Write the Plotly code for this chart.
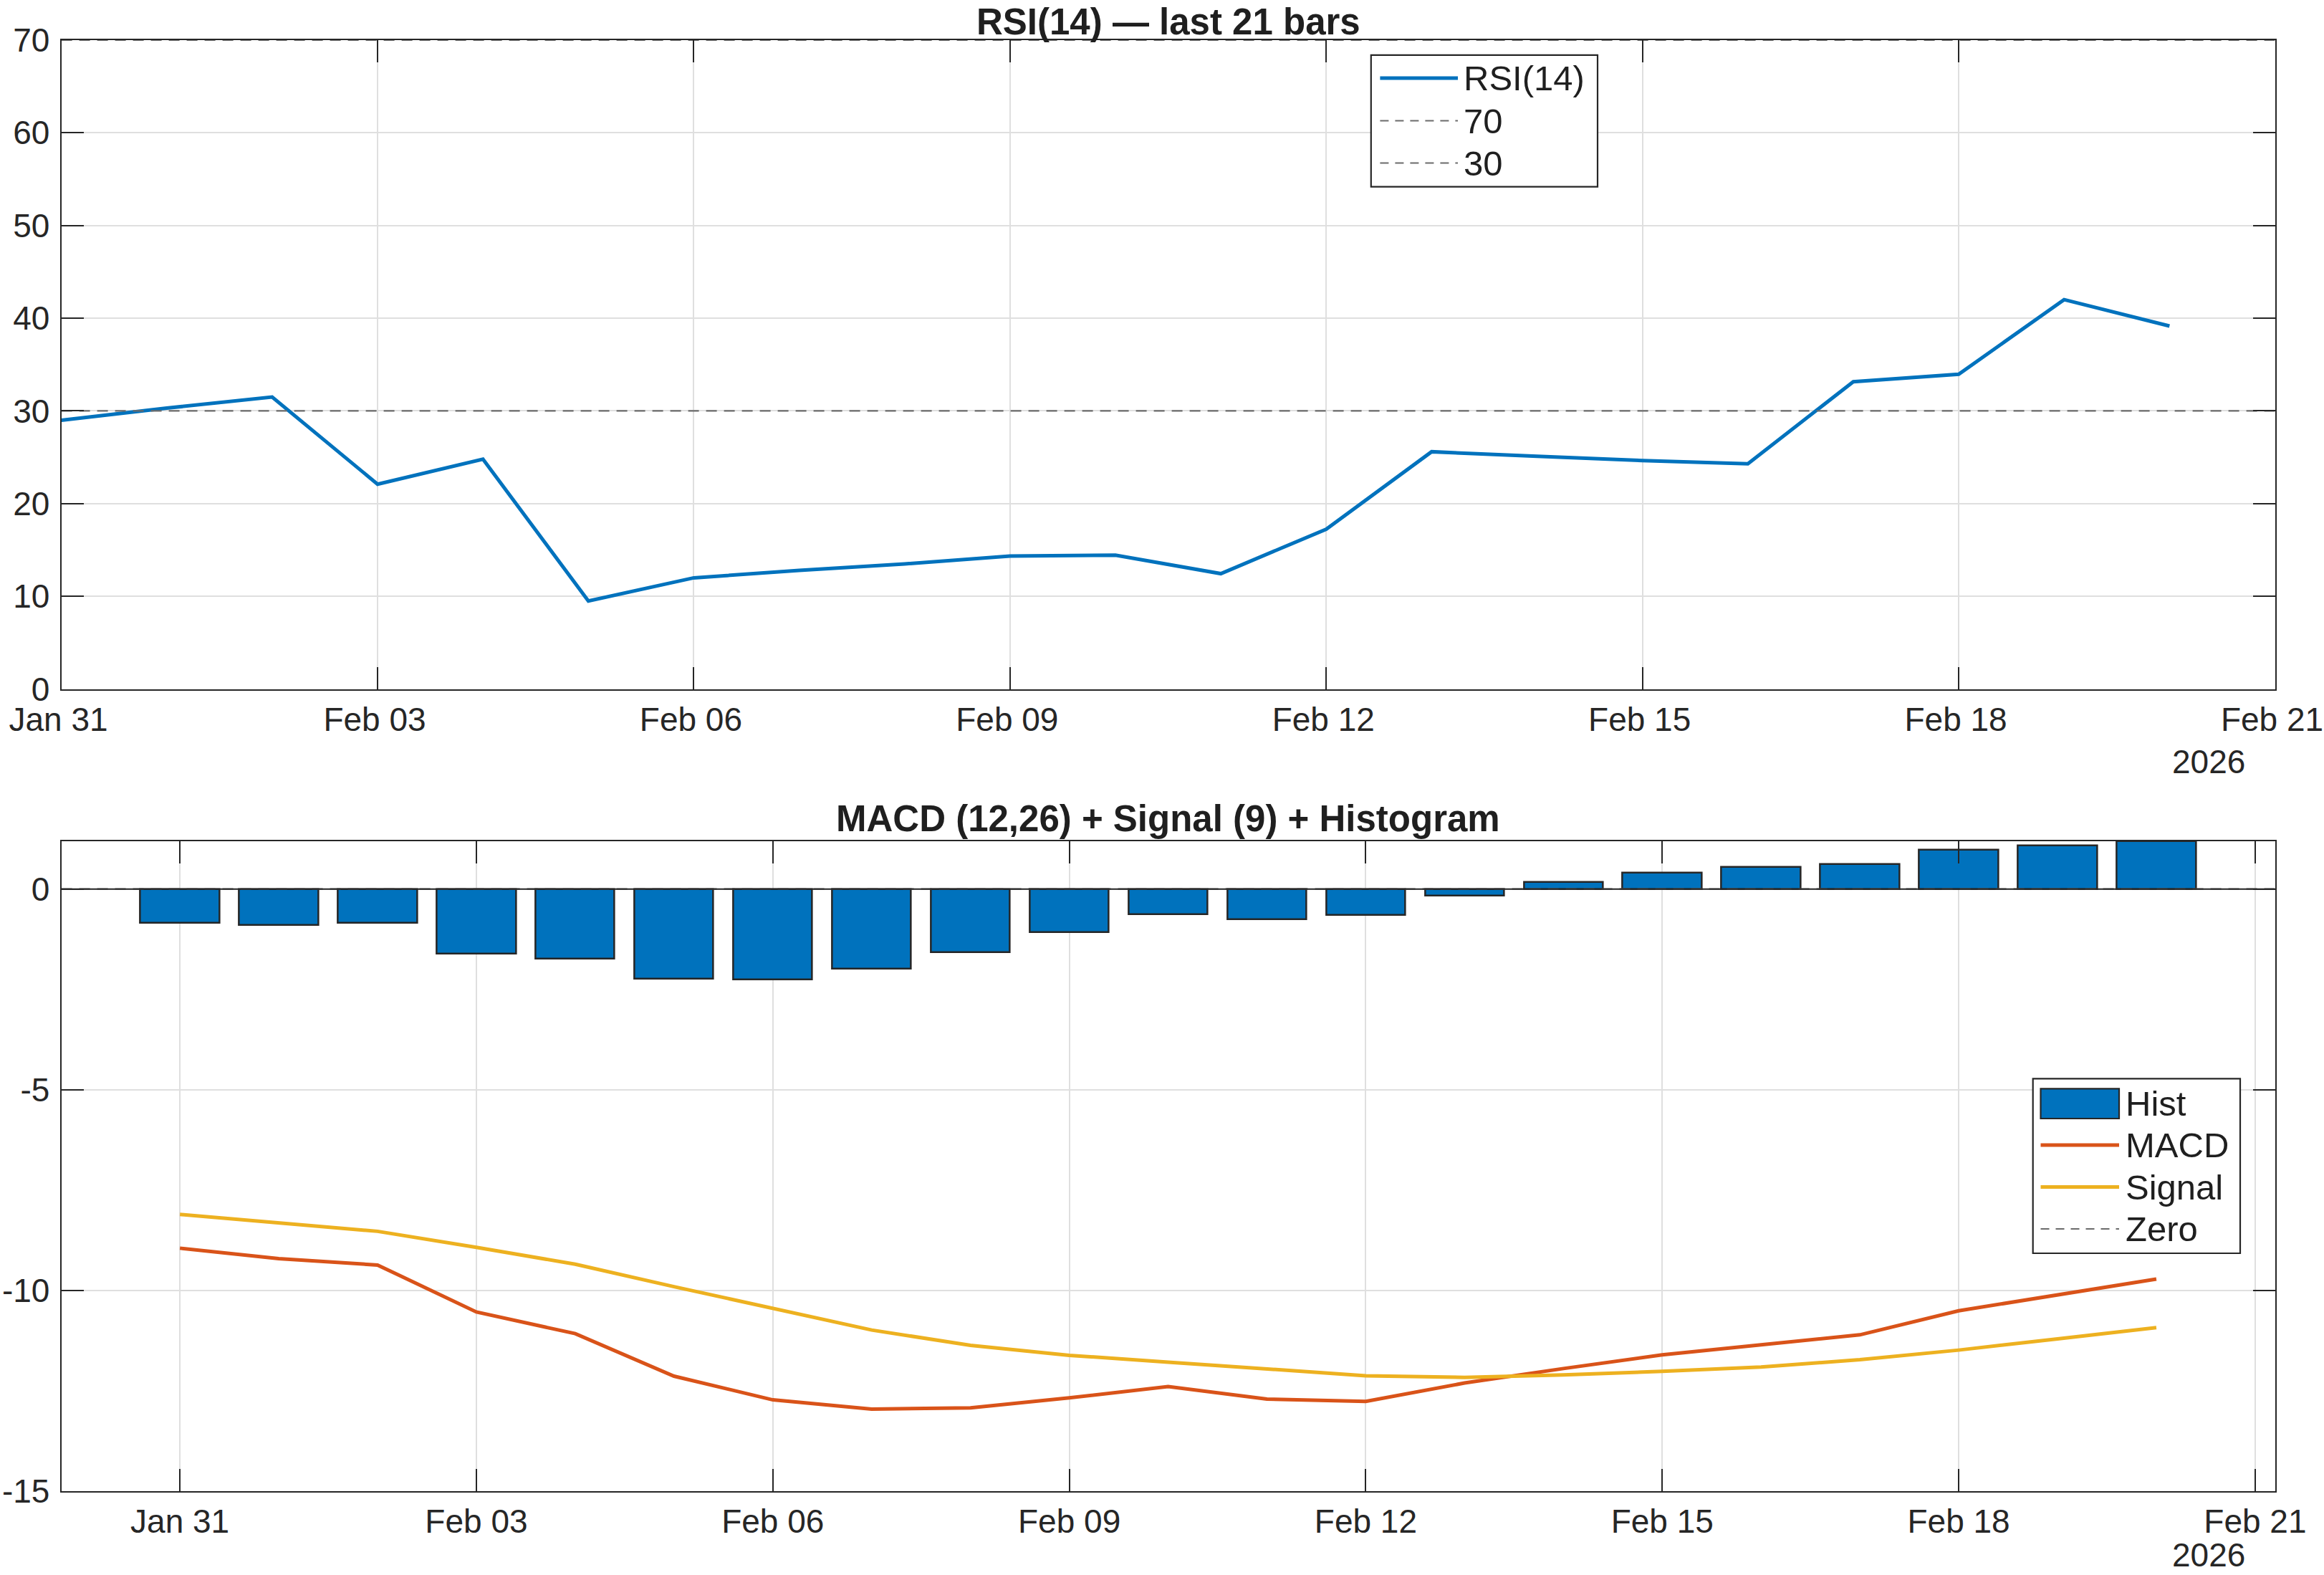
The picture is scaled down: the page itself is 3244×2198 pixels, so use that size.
import plotly.graph_objects as go

# ---------------- data ----------------
DATES = ["2026-01-31", "2026-02-01", "2026-02-02", "2026-02-03", "2026-02-04",
         "2026-02-05", "2026-02-06", "2026-02-07", "2026-02-08", "2026-02-09",
         "2026-02-10", "2026-02-11", "2026-02-12", "2026-02-13", "2026-02-14",
         "2026-02-15", "2026-02-16", "2026-02-17", "2026-02-18", "2026-02-19",
         "2026-02-20"]
RSI = [29.0, 30.3, 31.5, 22.1, 24.8, 9.5, 12.0, 12.8, 13.5, 14.35, 14.45,
       12.45, 17.25, 25.6, 25.1, 24.65, 24.3, 33.15, 33.95, 42.0, 39.15]
HIST = [-0.84, -0.90, -0.85, -1.61, -1.73, -2.23, -2.26, -1.99, -1.58, -1.07,
        -0.63, -0.75, -0.65, -0.16, 0.18, 0.40, 0.54, 0.62, 0.97, 1.08, 1.19]
MACD = [-8.95, -9.21, -9.37, -10.54, -11.08, -12.14, -12.73, -12.96, -12.93,
        -12.68, -12.40, -12.71, -12.77, -12.31, -11.95, -11.61, -11.36, -11.11,
        -10.51, -10.12, -9.72]
SIGNAL = [-8.11, -8.31, -8.53, -8.93, -9.35, -9.91, -10.46, -10.99, -11.37,
          -11.62, -11.79, -11.96, -12.13, -12.17, -12.11, -12.02, -11.91,
          -11.73, -11.49, -11.21, -10.93]
RSI_LEVELS = [70, 30]
ZERO = 0
RSI_YTICKS = [0, 10, 20, 30, 40, 50, 60, 70]
MACD_YTICKS = [0, -5, -10, -15]
MACD_YTICKTEXT = ["0", "-5", "-10", "-15"]
TOP_XRANGE = ["2026-01-31", "2026-02-21"]
BOT_XRANGE = ["2026-01-29 19:12", "2026-02-21 04:48"]
TITLE_TOP = "RSI(14) — last 21 bars"
TITLE_BOT = "MACD (12,26) + Signal (9) + Histogram"
YEAR_LABEL = "2026"
TOP_LEGEND = ["RSI(14)", "70", "30"]
BOT_LEGEND = ["Hist", "MACD", "Signal", "Zero"]

# ---------------- style ----------------
W, H = 3244, 2198
FONT = "Liberation Sans, Arial, Helvetica, sans-serif"
AX = "#262626"
TXT = "#1f1f1f"
GRID = "#dfdfdf"
BLUE = "#0072BD"
ORANGE = "#D95319"
YELLOW = "#EDB120"
DASH = "#6b6b6b"
DASHPAT = "15px,10px"
LW = 5
DAY = 86400000


def px(x):
    return x / W


def py(y):
    return 1 - y / H


fig = go.Figure()

# ---- top: RSI ----
fig.add_trace(go.Scatter(x=DATES, y=RSI, mode="lines", name=TOP_LEGEND[0],
                         line=dict(color=BLUE, width=LW),
                         xaxis="x", yaxis="y", showlegend=False))
for lvl in RSI_LEVELS:
    fig.add_trace(go.Scatter(x=TOP_XRANGE, y=[lvl, lvl], mode="lines",
                             name=str(lvl),
                             line=dict(color=DASH, width=2.2, dash=DASHPAT),
                             xaxis="x", yaxis="y", showlegend=False))

# ---- bottom: MACD ----
fig.add_trace(go.Scatter(x=BOT_XRANGE, y=[ZERO, ZERO], mode="lines", name="Zero",
                         line=dict(color=DASH, width=2.2, dash=DASHPAT),
                         xaxis="x2", yaxis="y2", showlegend=False))
fig.add_trace(go.Bar(x=DATES, y=HIST, name="Hist", width=0.8 * DAY,
                     marker=dict(color=BLUE, line=dict(color=AX, width=2.5)),
                     xaxis="x2", yaxis="y2", showlegend=False))
fig.add_trace(go.Scatter(x=DATES, y=MACD, mode="lines", name="MACD",
                         line=dict(color=ORANGE, width=LW),
                         xaxis="x2", yaxis="y2", showlegend=False))
fig.add_trace(go.Scatter(x=DATES, y=SIGNAL, mode="lines", name="Signal",
                         line=dict(color=YELLOW, width=LW),
                         xaxis="x2", yaxis="y2", showlegend=False))

XL, XR = 85.6, 3175.5
common_x = dict(type="date", tickformat="%b %d", tick0="2026-01-31", dtick=3 * DAY,
                showline=True, linecolor=AX, linewidth=2, mirror="ticks",
                ticks="inside", ticklen=31, tickwidth=2, tickcolor=AX,
                showgrid=True, gridcolor=GRID, gridwidth=2, zeroline=False,
                tickfont=dict(family=FONT, size=46, color=AX),
                ticklabelstandoff=1, ticklabeloverflow="allow", automargin=False)
common_y = dict(showline=True, linecolor=AX, linewidth=2, mirror="ticks",
                ticks="inside", ticklen=31, tickwidth=2, tickcolor=AX,
                showgrid=True, gridcolor=GRID, gridwidth=2, zeroline=False,
                tickfont=dict(family=FONT, size=46, color=AX),
                ticklabelstandoff=5, automargin=False)

fig.update_layout(
    width=W, height=H,
    margin=dict(l=0, r=0, t=0, b=0, autoexpand=False),
    paper_bgcolor="white", plot_bgcolor="white",
    font=dict(family=FONT, color=AX),
    bargap=0,
    showlegend=False,
    xaxis=dict(domain=[px(XL), px(XR)], anchor="y", range=TOP_XRANGE,
               ticklabelshift=-4, **common_x),
    yaxis=dict(domain=[py(961.7), py(55.8)], anchor="x", range=[0, 70],
               tickvals=RSI_YTICKS, **common_y),
    xaxis2=dict(domain=[px(XL), px(XR)], anchor="y2", range=BOT_XRANGE, **common_x),
    yaxis2=dict(domain=[py(2080.7), py(1174)], anchor="x2", range=[-15, 1.19],
                tickvals=MACD_YTICKS, ticktext=MACD_YTICKTEXT, **common_y),
)

# bar baseline (solid, like the reference)
fig.add_shape(type="line", xref="x2 domain", yref="y2", x0=0, x1=1, y0=ZERO, y1=ZERO,
              line=dict(color=AX, width=2), layer="above")


def legend_box(x0, y0, x1, y1):
    fig.add_shape(type="rect", xref="paper", yref="paper",
                  x0=px(x0), x1=px(x1), y0=py(y1), y1=py(y0),
                  fillcolor="white", line=dict(color=AX, width=2.2), layer="above")


def legend_line(x0, x1, y, color, width, dash="solid"):
    fig.add_shape(type="line", xref="paper", yref="paper",
                  x0=px(x0), x1=px(x1), y0=py(y), y1=py(y),
                  line=dict(color=color, width=width, dash=dash), layer="above")


def legend_text(x, y, text):
    fig.add_annotation(text=text, xref="paper", yref="paper", x=px(x), y=py(y),
                       xanchor="left", yanchor="middle", showarrow=False,
                       font=dict(family=FONT, size=49, color=TXT))


# top legend
legend_box(1913.8, 76.8, 2230, 260.7)
top_rows = [109, 168.5, 227.5]
legend_line(1926.4, 2035, top_rows[0], BLUE, LW)
legend_line(1926.4, 2035, top_rows[1], DASH, 2.2, "12px,9px")
legend_line(1926.4, 2035, top_rows[2], DASH, 2.2, "12px,9px")
for r, t in zip(top_rows, TOP_LEGEND):
    legend_text(2041, r, t)

# bottom legend
legend_box(2837.7, 1505.3, 3127, 1749)
bot_rows = [1540, 1598, 1656.5, 1715]
fig.add_shape(type="rect", xref="paper", yref="paper",
              x0=px(2848.5), x1=px(2958), y0=py(1561), y1=py(1519.3),
              fillcolor=BLUE, line=dict(color=AX, width=2.2), layer="above")
legend_line(2848.5, 2958, bot_rows[1], ORANGE, LW)
legend_line(2848.5, 2958, bot_rows[2], YELLOW, LW)
legend_line(2848.5, 2958, bot_rows[3], DASH, 2.2, "12px,9px")
for r, t in zip(bot_rows, BOT_LEGEND):
    legend_text(2965, r, t)

# titles
XC = px((XL + XR) / 2)
fig.add_annotation(text=TITLE_TOP, xref="paper", yref="paper", x=XC, y=py(0.5),
                   xanchor="center", yanchor="top", showarrow=False,
                   font=dict(family=FONT, size=51, color=TXT, weight="bold"))
fig.add_annotation(text=TITLE_BOT, xref="paper", yref="paper", x=XC, y=py(1142),
                   xanchor="center", yanchor="middle", showarrow=False,
                   font=dict(family=FONT, size=51, color=TXT, weight="bold"))
# year labels
fig.add_annotation(text=YEAR_LABEL, xref="paper", yref="paper", x=px(3136), y=py(1063),
                   xanchor="right", yanchor="middle", showarrow=False,
                   font=dict(family=FONT, size=46, color=AX))
fig.add_annotation(text=YEAR_LABEL, xref="paper", yref="paper", x=px(3136), y=py(2197.5),
                   xanchor="right", yanchor="bottom", showarrow=False,
                   font=dict(family=FONT, size=46, color=AX))

fig.write_html("out.html")
